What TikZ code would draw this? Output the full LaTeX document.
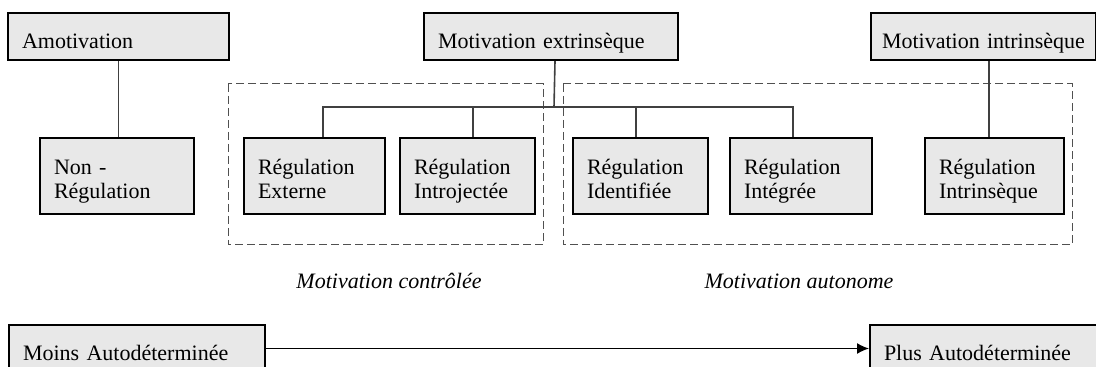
\documentclass[tikz,border=0pt]{standalone}
\usepackage{fontspec}
\setmainfont{Liberation Serif}
\usepackage[dvipsnames]{xcolor}
\usepackage{tikz}
\usetikzlibrary{arrows,arrows.meta}
\definecolor{cellgray}{HTML}{E8E8E8}
\definecolor{framegray}{HTML}{505050}

\begin{document}
\begin{tikzpicture}
    [x=0.5pt,y=-0.5pt, font=\fontsize{11}{12}\selectfont,
     cell/.style={draw,fill=cellgray,line width=1pt,anchor=north west,align=left,inner xsep=7pt,inner ysep=0pt},
     oneline/.style={cell,minimum height=23.5pt,text height=12.5pt,text depth=0pt},
     twoline/.style={cell,minimum height=38pt,text height=10pt,text depth=11pt},
     link/.style={draw=black!75,line width=0.8pt},
     groupframe/.style={draw=framegray,line width=0.5pt,dash pattern=on 4pt off 2pt},
     tag/.style={font=\fontsize{11}{12}\selectfont\itshape}]
\useasboundingbox (0,0) rectangle (1096,367);
%grouping frames
\draw[groupframe] (228,84) rectangle (543,245);
\draw[groupframe] (563,84) rectangle (1072,245);
%top row
\node[oneline,text width=96.5pt] (amot) at (7,12) {Amotivation};
\node[oneline,text width=113pt] (extr) at (423,12) {Motivation extrinsèque};
\node[oneline,text width=101.5pt,inner xsep=5.5pt] (intr) at (870,12) {\mbox{Motivation intrinsèque}};
%regulation row
\node[twoline,text width=63pt] (nonreg) at (39,137) {Non -\\Régulation};
\node[twoline,text width=56.5pt] (ext) at (243,137) {Régulation\\Externe};
\node[twoline,text width=53.5pt] (intro) at (399,137) {Régulation\\Introjectée};
\node[twoline,text width=53.5pt] (ident) at (572,137) {Régulation\\Identifiée};
\node[twoline,text width=57pt] (integ) at (729,137) {Régulation\\Intégrée};
\node[twoline,text width=55.5pt] (intrreg) at (924,137) {Régulation\\Intrinsèque};
%connectors
\coordinate (fork) at (554,107);
\draw[link] (amot.south) -- (amot.south |- nonreg.north);
\draw[link] ([xshift=2pt]extr.south) -- (fork);
\draw[link] ([xshift=4.25pt]ext.north) |- (fork);
\draw[link] ([xshift=2.75pt]intro.north) |- (fork);
\draw[link] ([xshift=-2.25pt]ident.north) |- (fork);
\draw[link] ([xshift=-4pt]integ.north) |- (fork);
\draw[link] ([xshift=2.75pt]intr.south) -- ([xshift=-2.75pt]intrreg.north);
%group labels
\node[tag] (ctrl) at (389,281) {Motivation contrôlée};
\node[tag] (auto) at (799,281) {Motivation autonome};
%scale
\node[oneline,text width=114pt] (less) at (8,324) {Moins Autodéterminée};
\node[oneline,text width=106pt] (more) at (869,324) {Plus Autodéterminée};
\draw[-{Latex[length=6pt,width=5.5pt]},line width=0.7pt] (less.east) -- (more.west);
\end{tikzpicture}
\end{document}
